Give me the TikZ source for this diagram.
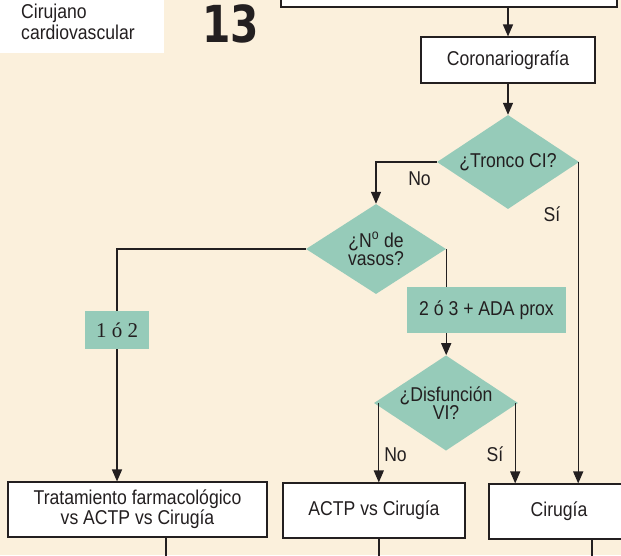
\documentclass[tikz,border=0pt]{standalone}
\usepackage{fontspec}
\setmainfont{Liberation Sans}[FakeStretch=0.88]
\newfontfamily\serfont{Liberation Serif}
\newfontfamily\numfont{DejaVu Sans}[FakeStretch=0.8]
\usetikzlibrary{shapes.geometric,arrows.meta}
\definecolor{cream}{HTML}{FBF0DC}
\definecolor{teal2}{HTML}{96CBB9}
\definecolor{ink}{HTML}{231F20}
\tikzset{
 box/.style={draw=ink, line width=1.1pt, fill=white, inner sep=0pt, text=ink, align=center, font=\fontsize{20}{18.5}\selectfont},
 decision/.style={diamond, aspect=1.5, fill=teal2, inner sep=0pt, text=ink, align=center, font=\fontsize{20}{18.5}\selectfont},
 tag/.style={fill=teal2, inner sep=0pt, text=ink},
 lbl/.style={text=ink, inner sep=0pt, font=\fontsize{20}{20}\selectfont, anchor=base},
 conn/.style={draw=ink, line width=1.3pt},
 arr/.style={conn, -{Triangle[length=12pt,width=10pt]}},
}
\begin{document}
\begin{tikzpicture}[x=1pt,y=-1pt]
\useasboundingbox (0,0) rectangle (621,555);
\clip (0,0) rectangle (621,555);
\fill[cream] (0,0) rectangle (621,555);
\node (rolebox) [fill=white, minimum width=164pt, minimum height=53pt, inner sep=0pt, anchor=north west] at (0,0) {};
\node (role) [anchor=north west, inner sep=0pt, align=left, text=ink, font=\fontsize{20}{21}\selectfont] at (21,4) {Cirujano\\cardiovascular};
\node (num) [anchor=base, inner sep=0pt, text=ink, font=\numfont\bfseries\fontsize{51}{51}\selectfont] at (230.5,42) {13};

\node (top) [box, minimum width=336pt, minimum height=30pt] at (449,-8) {};
\node (coro) [box, minimum width=174pt, minimum height=46pt] at (508,60) {Coronariografía};
\node (tronco) [decision, minimum width=142pt, minimum height=94pt] at (508,162) {¿Tronco CI?};
\node (vasos) [decision, minimum width=140pt, minimum height=90pt] at (376,249) {¿N\textsuperscript{o} de\\vasos?};
\node (one) [tag, minimum width=64pt, minimum height=38pt, font=\serfont\fontsize{21}{21}\selectfont] at (117,330) {1 ó 2};
\node (two) [tag, minimum width=159pt, minimum height=46pt, font=\fontsize{20}{20}\selectfont] at (486.5,310) {2 ó 3 + ADA prox};
\node (dis) [decision, minimum width=144pt, minimum height=94pt] at (446,403) {¿Disfunción\\VI?};
\node (trat) [box, minimum width=259pt, minimum height=55pt] at (137.5,509.5) {Tratamiento farmacológico\\vs ACTP vs Cirugía};
\node (actp) [box, minimum width=182pt, minimum height=55pt] at (374,510.5) {ACTP vs Cirugía};
\node (cir) [box, minimum width=140pt, minimum height=55pt] at (559,511.5) {Cirugía};

\draw[arr] (top.south -| coro.north) -- (coro.north);
\draw[arr] (coro.south) -- (tronco.north);
\draw[arr] (tronco.west) -| (vasos.north);
\draw[arr] ([xshift=-1pt]tronco.east) -- ([xshift=-1pt]tronco.east |- cir.north);
\draw[conn] (vasos.west) -| (one.north);
\draw[arr] (one.south) -- (one.south |- trat.north);
\draw[conn] (vasos.east) -- (vasos.east |- two.north);
\draw[arr] (vasos.east |- two.south) -- (vasos.east |- dis.north);
\draw[arr] ([xshift=5pt]dis.west) -- ([xshift=5pt]dis.west |- actp.north);
\draw[arr] ([xshift=-3pt]dis.east) -- ([xshift=-3pt]dis.east |- cir.north);

\node (no1) [lbl] at (419.5,185) {No};
\node (si1) [lbl] at (552,221) {Sí};
\node (no2) [lbl] at (395.5,461) {No};
\node (si2) [lbl] at (495,461) {Sí};

\coordinate (e1) at (166,560);
\coordinate (e2) at (379,560);
\coordinate (e3) at (592,560);
\draw[conn] (e1 |- trat.south) -- (e1);
\draw[conn] (e2 |- actp.south) -- (e2);
\draw[conn] (e3 |- cir.south) -- (e3);
\end{tikzpicture}
\end{document}
